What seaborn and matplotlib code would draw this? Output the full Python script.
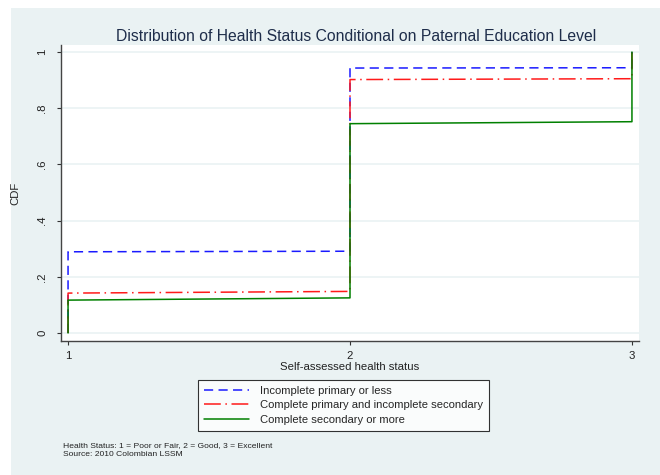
import numpy as np
import pandas as pd
import matplotlib
matplotlib.use("Agg")
import matplotlib.pyplot as plt
import seaborn as sns
from matplotlib.patches import Rectangle

# Datos: vertices de la CDF escalonada (x = estado de salud, y = CDF)
status_ticks = [1, 2, 3]
y_ticks = [0, 0.2, 0.4, 0.6, 0.8, 1.0]
y_tick_labels = ["0", ".2", ".4", ".6", ".8", "1"]

grupo_nombres = ["Incomplete primary or less",
                 "Complete primary and incomplete secondary",
                 "Complete secondary or more"]

blue_x = [1, 1, 2, 2, 3, 3]
blue_y = [0.0, 0.289, 0.291, 0.943, 0.944, 1.0]

red_x = [1, 1, 2, 2, 3, 3]
red_y = [0.0, 0.142, 0.148, 0.902, 0.905, 1.0]

green_x = [1, 1, 2, 2, 3, 3]
green_y = [0.0, 0.117, 0.125, 0.745, 0.752, 1.0]

bg = "#eaf2f3"
sns.set_style("white")
plt.rcParams["font.family"] = ["Liberation Sans", "DejaVu Sans"]

fig = plt.figure(figsize=(6.6, 4.75), dpi=100)
fig.patch.set_facecolor("white")
# region gris-azulada estilo Stata
fig.patches.append(Rectangle((11 / 660, 0), 1 - 11 / 660, 1 - 8 / 475,
                             transform=fig.transFigure, facecolor=bg,
                             edgecolor="none", zorder=-5))

ax = fig.add_axes([61 / 660, 1 - 341 / 475, 578 / 660, 296 / 475])
ax.set_facecolor("white")

for yv in y_ticks:
    ax.axhline(yv, color=bg, lw=1.2, zorder=0)

sns.lineplot(x=blue_x, y=blue_y, ax=ax, color="#1a1aff", lw=1.1,
             linestyle=(0, (6, 3.5)), estimator=None, sort=False,
             label=grupo_nombres[0])
sns.lineplot(x=red_x, y=red_y, ax=ax, color="#ff1a1a", lw=1.1,
             linestyle=(0, (11, 3, 1, 3)), estimator=None, sort=False,
             label=grupo_nombres[1])
sns.lineplot(x=green_x, y=green_y, ax=ax, color="#008000", lw=1.1,
             linestyle="-", estimator=None, sort=False,
             label=grupo_nombres[2])

ax.set_xlim(0.975, 3.025)
ax.set_ylim(-0.0285, 1.025)
ax.set_xticks(status_ticks)
ax.set_xticklabels([str(s) for s in status_ticks])
ax.set_yticks(y_ticks)
ax.set_yticklabels(y_tick_labels, rotation=90, va="center")
ax.tick_params(axis="both", direction="out", length=3, width=0.8,
               color="#333333", labelsize=8.2, labelcolor="#222222",
               bottom=True, left=True)
ax.tick_params(axis="x", pad=4.5)
ax.tick_params(axis="y", pad=7)

for s in ["top", "right"]:
    ax.spines[s].set_visible(False)
for s in ["left", "bottom"]:
    ax.spines[s].set_color("#444444")
    ax.spines[s].set_linewidth(1.0)

ax.set_xlabel("Self-assessed health status", fontsize=8.2, color="#222222", labelpad=0.5)
ax.set_ylabel("CDF", fontsize=8.2, color="#222222", labelpad=12)
ax.set_title("Distribution of Health Status Conditional on Paternal Education Level",
             fontsize=11.3, color="#1e2d4a", pad=3, x=0.51)

leg = ax.legend(loc="upper center", bbox_to_anchor=(0.489, -0.132), ncol=1,
                fontsize=8.1, frameon=True, fancybox=False, edgecolor="black",
                handlelength=4.0, borderpad=0.5, labelspacing=0.42,
                handletextpad=1.0, borderaxespad=0)
leg.get_frame().set_linewidth(0.8)
leg.get_frame().set_facecolor("white")

fig.text(63 / 660, 1 - 446 / 475, "Health Status: 1 = Poor or Fair, 2 = Good, 3 = Excellent",
         fontsize=6.1, color="#222222", va="center")
fig.text(63 / 660, 1 - 454 / 475, "Source: 2010 Colombian LSSM",
         fontsize=6.1, color="#222222", va="center")

fig.savefig("out.png", dpi=100, facecolor=fig.get_facecolor())
